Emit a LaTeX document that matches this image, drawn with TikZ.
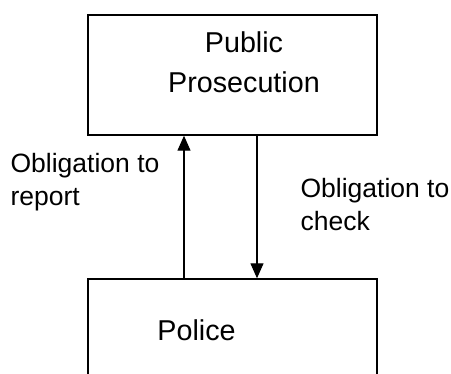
\documentclass[tikz,border=0pt]{standalone}
\usepackage{fontspec}
\setmainfont{Liberation Sans}
\usetikzlibrary{arrows.meta,positioning}

\begin{document}
\begin{tikzpicture}[>={Triangle[width=13pt,length=15pt]},
    box/.style={rectangle, draw, line width=1.4pt, minimum width=289pt, minimum height=120pt},
    txt/.style={font=\fontsize{28.7}{40}\selectfont, align=center, inner sep=0pt},
    lbl/.style={font=\fontsize{26.5}{33}\selectfont, align=left, inner sep=0pt}]
    \useasboundingbox (0,0) rectangle (451pt,-374pt);
    \node [box] (pp) at (232.5pt,-75pt) {};
    \node [box, below=142.6pt of pp] (pol) {};
    \node [txt] (pptext) at ([xshift=11.5pt, yshift=13pt]pp.center) {Public\\Prosecution};
    \node [txt] (poltext) at ([xshift=-36pt, yshift=9pt]pol.center) {Police};
    \draw [->, line width=1.2pt] ([xshift=-48.5pt]pol.north) -- node[lbl, pos=0.674, left=24pt]{Obligation to\\report} ([xshift=-48.5pt]pp.south);
    \draw [->, line width=1.2pt] ([xshift=24.5pt]pp.south) -- node[lbl, pos=0.486, right=43pt]{Obligation to\\check} ([xshift=24.5pt]pol.north);
\end{tikzpicture}
\end{document}
